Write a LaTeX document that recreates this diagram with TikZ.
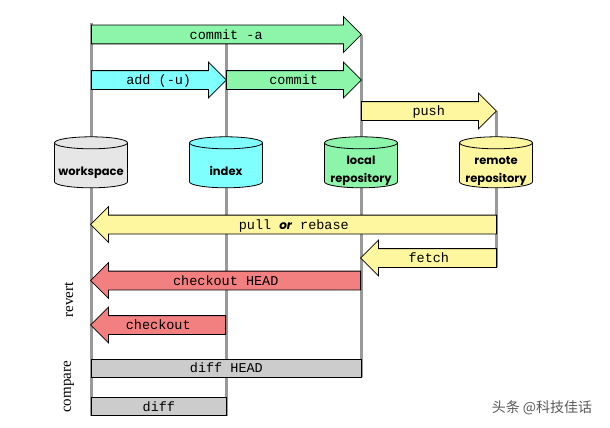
\documentclass[tikz,border=0pt]{standalone}
\usepackage{fontspec}
\setmainfont{Liberation Serif}
\setmonofont{Liberation Mono}
\newfontfamily\cylfont{Poppins}
\newfontfamily\cjkfont{Noto Sans CJK SC}
\usetikzlibrary{positioning,shapes.geometric,shapes.arrows,calc}
\definecolor{mint}{HTML}{8CF5AA}
\definecolor{aqua}{HTML}{80FFFF}
\definecolor{butter}{HTML}{FFF7A0}
\definecolor{salmon}{HTML}{F28080}
\definecolor{silver}{HTML}{CCCCCC}
\definecolor{paper}{HTML}{E6E6E6}
\definecolor{lanegray}{HTML}{999999}

\begin{document}
\begin{tikzpicture}[
  x=1pt, y=-1pt,
  lane/.style={draw=lanegray,line width=3pt},
  cyl/.style={cylinder,shape border rotate=90,draw,line width=0.8pt,aspect=0.2,
              minimum width=73pt,minimum height=51pt,inner sep=0pt,
              execute at begin node={\rule{60pt}{0pt}\rule{0pt}{8pt}}},
  cyltxt/.style={align=center,inner sep=0pt,
                 font=\cylfont\bfseries\fontsize{11.5}{18}\selectfont},
  band/.style={single arrow,draw,line width=0.8pt,single arrow head extend=8.5pt,
               single arrow head indent=0pt,inner xsep=0pt,inner ysep=0pt,
               text height=13.8pt,text depth=4.2pt,minimum width=35pt,
               font=\ttfamily\fontsize{13.5}{14}\selectfont},
  rgt/.style={band,anchor=tail,execute at begin node={\hspace{9pt}}},
  lft/.style={band,anchor=tail,shape border rotate=180,execute at end node={\hspace{9pt}}},
  bar/.style={draw,line width=0.8pt,inner xsep=0pt,inner ysep=0pt,anchor=west,
              text height=13.8pt,text depth=4.2pt,
              font=\ttfamily\fontsize{13.5}{14}\selectfont},
  side/.style={rotate=90,font=\fontsize{15}{16}\selectfont},
]
\useasboundingbox (0,0) rectangle (610,428);
% lanes
\coordinate (ws-top) at (91,23);   \coordinate (ws-bot) at (91,416);
\coordinate (idx-top) at (226,43); \coordinate (idx-bot) at (226,416);
\coordinate (loc-top) at (361,35); \coordinate (loc-bot) at (361,377);
\coordinate (rem-top) at (496,111);\coordinate (rem-bot) at (496,267);
\draw[lane] (ws-top) -- (ws-bot);
\draw[lane] (idx-top) -- (idx-bot);
\draw[lane] (loc-top) -- (loc-bot);
\draw[lane] (rem-top) -- (rem-bot);
% stores
\node[cyl,fill=paper] (ws) at (91,165.5) {};
\node[cyl,fill=aqua] (idx) at (226,165.5) {};
\node[cyl,fill=mint] (loc) at (361,165.5) {};
\node[cyl,fill=butter] (rem) at (496,165.5) {};
\node[cyltxt,anchor=base] (ws-t) at (91,175) {workspace};
\node[cyltxt,anchor=base] (idx-t) at (226,175) {index};
\node[cyltxt] (loc-t) at (361,171) {local\\repository};
\node[cyltxt] (rem-t) at (496,171) {remote\\repository};
% commands
\node[rgt,fill=mint,minimum height=270pt] (commitA) at (91,34.5) {commit -a};
\node[rgt,fill=aqua,minimum height=135pt] (add) at (91,80) {add (-u)};
\node[rgt,fill=mint,minimum height=135pt] (commit) at (226,80) {commit};
\node[rgt,fill=butter,minimum height=135pt] (push) at (361,111) {push};
\node[lft,fill=butter,minimum height=406pt] (pull) at (497,224.5)
  {pull {\cylfont\bfseries\itshape\fontsize{12}{14}\selectfont or} rebase};
\node[lft,fill=butter,minimum height=136pt] (fetch) at (497,258) {fetch};
\node[lft,fill=salmon,minimum height=270pt] (coHead) at (361,280.5) {checkout HEAD};
\node[lft,fill=salmon,minimum height=135pt] (co) at (226,325) {checkout};
\node[bar,fill=silver,minimum width=270pt] (diffHead) at (91,368) {diff HEAD};
\node[bar,fill=silver,minimum width=135pt] (diff) at (91,406.5) {diff};
% groups
\node[side] (revert) at (69,300) {revert};
\node[side] (compare) at (69,387) {compare};
\node[text=black!65,font=\cjkfont\fontsize{14}{16}\selectfont] (mark) at (542,408) {头条 @科技佳话};
\end{tikzpicture}
\end{document}
